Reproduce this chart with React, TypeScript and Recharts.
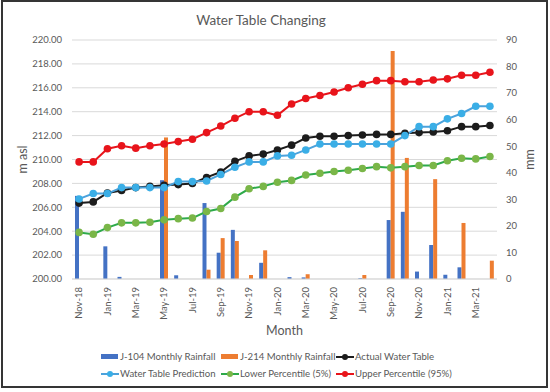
import React from 'react';
import { ComposedChart, Bar, Line, XAxis, YAxis, CartesianGrid, Legend } from 'recharts';

document.body.style.margin = '0';

const months = [
  'Nov-18', 'Dec-18', 'Jan-19', 'Feb-19', 'Mar-19', 'Apr-19', 'May-19', 'Jun-19', 'Jul-19', 'Aug-19',
  'Sep-19', 'Oct-19', 'Nov-19', 'Dec-19', 'Jan-20', 'Feb-20', 'Mar-20', 'Apr-20', 'May-20', 'Jun-20',
  'Jul-20', 'Aug-20', 'Sep-20', 'Oct-20', 'Nov-20', 'Dec-20', 'Jan-21', 'Feb-21', 'Mar-21', 'Apr-21',
];

// rainfall in mm (right axis)
const j104Rain = [
  31.3, 0, 12.3, 0.8, 0, 0, 37.2, 1.4, 0, 28.6,
  9.9, 18.5, 0, 6.1, 0, 0.7, 0.6, 0, 0, 0,
  0.3, 0, 22.2, 25.3, 2.8, 12.8, 1.6, 4.4, 0, 0,
];
const j214Rain = [
  0, 0, 0, 0, 0, 0, 53.3, 0, 0, 3.5,
  15.4, 14.3, 1.5, 10.8, 0, 0, 1.8, 0, 0, 0,
  1.5, 0, 85.9, 45.6, 0, 37.6, 0, 21.1, 0, 6.9,
];

// water table in m asl (left axis)
const actualTable = [
  206.35, 206.45, 207.2, 207.4, 207.65, 207.75, 207.85, 207.9, 208.0, 208.5,
  208.95, 209.85, 210.3, 210.45, 210.8, 211.2, 211.8, 211.95, 211.95, 212.0,
  212.05, 212.1, 212.1, 212.2, 212.25, 212.3, 212.4, 212.75, 212.75, 212.85,
];
const predictedTable = [
  206.7, 207.15, 207.15, 207.65, 207.65, 207.65, 207.65, 208.15, 208.15, 208.2,
  208.75, 209.35, 209.8, 209.8, 210.3, 210.35, 210.8, 211.3, 211.3, 211.3,
  211.3, 211.3, 211.3, 212.0, 212.75, 212.75, 213.4, 213.85, 214.45, 214.45,
];
const lowerPct = [
  203.9, 203.75, 204.3, 204.7, 204.7, 204.75, 204.95, 205.05, 205.1, 205.65,
  205.9, 206.85, 207.55, 207.75, 208.1, 208.25, 208.7, 208.85, 209.0, 209.1,
  209.25, 209.4, 209.3, 209.4, 209.5, 209.5, 209.9, 210.1, 210.05, 210.25,
];
const upperPct = [
  209.8, 209.8, 210.9, 211.15, 210.95, 211.15, 211.3, 211.5, 211.7, 212.25,
  212.8, 213.45, 214.0, 214.0, 213.7, 214.65, 215.1, 215.35, 215.65, 216.0,
  216.3, 216.6, 216.6, 216.5, 216.5, 216.65, 216.75, 217.05, 217.05, 217.3,
];

const levelTicks = [200, 202, 204, 206, 208, 210, 212, 214, 216, 218, 220];
const rainTicks = [0, 10, 20, 30, 40, 50, 60, 70, 80, 90];

const data = months.map((month, i) => ({
  month,
  j104: j104Rain[i],
  j214: j214Rain[i],
  actual: actualTable[i],
  predicted: predictedTable[i],
  lower: lowerPct[i],
  upper: upperPct[i],
}));

const FONT = 'Lato, "Open Sans", sans-serif';
const TEXT = '#595959';

const dotColors: Record<string, string> = {
  actual: '#1c1c1c',
  predicted: '#3aaee6',
  lower: '#7ab648',
  upper: '#e8141b',
};

const legendOrder = ['j104', 'j214', 'actual', 'predicted', 'lower', 'upper'];

function MonthTick({ x, y, payload }: any) {
  return (
    <text
      x={x}
      y={y}
      transform={`rotate(-90 ${x} ${y})`}
      textAnchor="end"
      dy="0.35em"
      fill={TEXT}
      fontSize={9.5}
      fontFamily={FONT}
    >
      {payload.value}
    </text>
  );
}

function SideTitle({ viewBox, text, dx }: any) {
  const cx = viewBox.x + dx;
  const cy = viewBox.y + viewBox.height / 2;
  return (
    <text
      x={cx}
      y={cy}
      transform={`rotate(-90 ${cx} ${cy})`}
      textAnchor="middle"
      dominantBaseline="central"
      fill={TEXT}
      fontSize={12.5}
      fontFamily={FONT}
    >
      {text}
    </text>
  );
}

function LegendIcon({ kind, color, dot }: { kind: string; color: string; dot: string }) {
  if (kind === 'rect') {
    return <span style={{ display: 'inline-block', width: 17, height: 5, background: color, marginRight: 2 }} />;
  }
  return (
    <svg width={18} height={8} style={{ marginRight: 1 }}>
      <line x1={0} y1={4} x2={18} y2={4} stroke={color} strokeWidth={2} />
      <circle cx={9} cy={4} r={3} fill={dot} />
    </svg>
  );
}

function ChartLegend({ payload }: any) {
  const items = [...(payload || [])].sort(
    (a: any, b: any) => legendOrder.indexOf(a.dataKey) - legendOrder.indexOf(b.dataKey)
  );
  return (
    <div
      style={{
        height: 46,
        boxSizing: 'border-box',
        paddingTop: 11,
        paddingLeft: 101,
        display: 'grid',
        gridTemplateColumns: '120px 115px auto',
        gridAutoRows: '17px',
        fontFamily: FONT,
        fontSize: 9.6,
        color: TEXT,
      }}
    >
      {items.map((it: any) => (
        <div key={it.dataKey} style={{ display: 'flex', alignItems: 'center', whiteSpace: 'nowrap' }}>
          <LegendIcon kind={it.type} color={it.color} dot={dotColors[it.dataKey] || it.color} />
          <span>{it.value}</span>
        </div>
      ))}
    </div>
  );
}

export default function App() {
  return (
    <div style={{ position: 'relative', width: 550, height: 392, background: '#fff' }}>
      <div
        style={{
          position: 'absolute',
          left: 0,
          top: 10,
          width: 522,
          textAlign: 'center',
          fontFamily: FONT,
          fontSize: 13.5,
          color: TEXT,
          lineHeight: '20px',
        }}
      >
        Water Table Changing
      </div>
      <ComposedChart
        width={550}
        height={392}
        data={data}
        margin={{ top: 40, right: 0, left: 0, bottom: 9 }}
        barGap={0}
      >
        <CartesianGrid yAxisId="level" vertical={false} stroke="#d9d9d9" />
        <XAxis
          dataKey="month"
          interval={1}
          tickLine={false}
          axisLine={{ stroke: '#d9d9d9' }}
          height={58}
          tick={<MonthTick />}
          label={{ value: 'Month', position: 'insideBottom', offset: 2, fill: TEXT, fontSize: 12.5, fontFamily: FONT }}
        />
        <YAxis
          yAxisId="level"
          domain={[200, 220]}
          ticks={levelTicks}
          tickFormatter={(v: number) => v.toFixed(2)}
          axisLine={false}
          tickLine={false}
          tickMargin={4}
          width={72}
          tick={{ fill: TEXT, fontSize: 9.5, fontFamily: FONT }}
          label={{ content: (p: any) => <SideTitle viewBox={p.viewBox} text="m asl" dx={22} /> }}
        />
        <YAxis
          yAxisId="rain"
          orientation="right"
          domain={[0, 90]}
          ticks={rainTicks}
          axisLine={false}
          tickLine={false}
          tickMargin={3}
          width={53}
          tick={{ fill: TEXT, fontSize: 9.5, fontFamily: FONT, textAnchor: 'start' }}
          label={{ content: (p: any) => <SideTitle viewBox={p.viewBox} text="mm" dx={32} /> }}
        />
        <Legend verticalAlign="bottom" wrapperStyle={{ left: 0, width: 550 }} content={<ChartLegend />} />
        <Bar yAxisId="rain" dataKey="j104" name="J-104 Monthly Rainfall" fill="#4472c4" barSize={4} isAnimationActive={false} />
        <Bar yAxisId="rain" dataKey="j214" name="J-214 Monthly Rainfall" fill="#ed7d31" barSize={4} isAnimationActive={false} />
        <Line
          yAxisId="level"
          dataKey="actual"
          name="Actual Water Table"
          stroke="#1c1c1c"
          strokeWidth={2}
          dot={{ r: 3.8, fill: dotColors.actual, stroke: dotColors.actual, strokeWidth: 0 }}
          isAnimationActive={false}
        />
        <Line
          yAxisId="level"
          dataKey="predicted"
          name="Water Table Prediction"
          stroke="#4ba2dc"
          strokeWidth={2}
          dot={{ r: 3.8, fill: dotColors.predicted, stroke: dotColors.predicted, strokeWidth: 0 }}
          isAnimationActive={false}
        />
        <Line
          yAxisId="level"
          dataKey="lower"
          name="Lower Percentile (5%)"
          stroke="#2eaa4a"
          strokeWidth={2}
          dot={{ r: 3.8, fill: dotColors.lower, stroke: dotColors.lower, strokeWidth: 0 }}
          isAnimationActive={false}
        />
        <Line
          yAxisId="level"
          dataKey="upper"
          name="Upper Percentile (95%)"
          stroke="#e8141b"
          strokeWidth={2}
          dot={{ r: 3.8, fill: dotColors.upper, stroke: dotColors.upper, strokeWidth: 0 }}
          isAnimationActive={false}
        />
      </ComposedChart>
      <div
        style={{
          position: 'absolute',
          left: 1,
          top: 0,
          width: 547,
          height: 388,
          border: '2px solid #353535',
          boxSizing: 'border-box',
          pointerEvents: 'none',
        }}
      />
    </div>
  );
}
